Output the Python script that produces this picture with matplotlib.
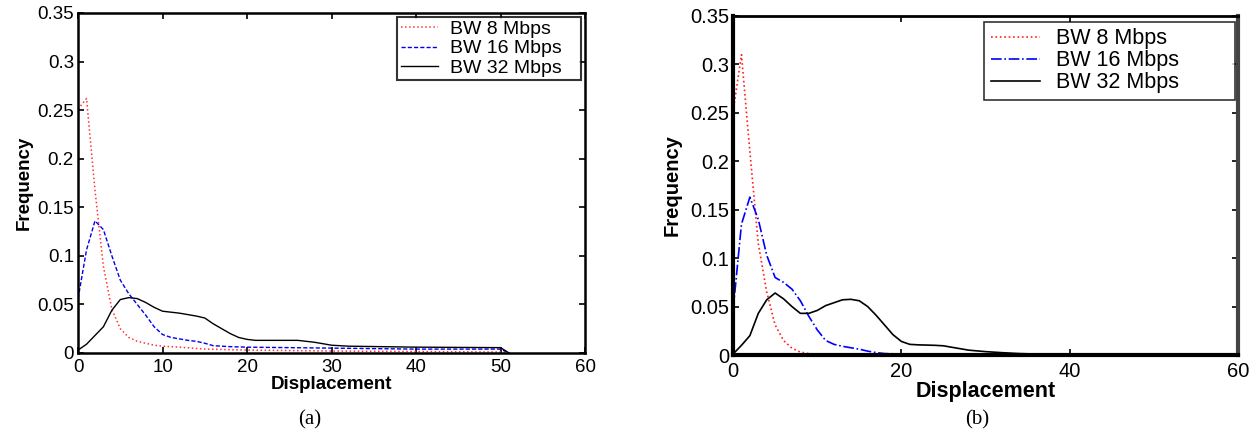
import matplotlib
matplotlib.use('Agg')
import matplotlib.pyplot as plt

# panel (a)
a_x_8 = [0, 1, 2, 3, 4, 5, 6, 7, 8, 9, 10, 12, 15, 20, 25, 30, 40, 50, 51]
a_y_8 = [0.251, 0.262, 0.168, 0.089, 0.045, 0.025, 0.016, 0.012, 0.010, 0.008,
         0.007, 0.006, 0.004, 0.003, 0.0025, 0.002, 0.0015, 0.001, 0.0]

a_x_16 = [0, 1, 2, 3, 4, 5, 6, 7, 8, 9, 10, 11, 12, 13, 14, 15, 16, 18, 20, 25, 30, 40, 50, 51]
a_y_16 = [0.056, 0.106, 0.136, 0.127, 0.100, 0.075, 0.061, 0.050, 0.039, 0.027,
          0.019, 0.016, 0.0145, 0.013, 0.012, 0.010, 0.0075, 0.0065, 0.006, 0.0055,
          0.005, 0.004, 0.004, 0.0]

a_x_32 = [0, 1, 2, 3, 4, 5, 6, 7, 8, 9, 10, 12, 14, 15, 16, 17, 18, 19, 20, 21,
          26, 28, 30, 32, 40, 50, 51]
a_y_32 = [0.003, 0.009, 0.018, 0.027, 0.044, 0.055, 0.057, 0.056, 0.052, 0.047,
          0.043, 0.041, 0.038, 0.036, 0.030, 0.025, 0.020, 0.016, 0.014, 0.013,
          0.013, 0.011, 0.008, 0.007, 0.006, 0.0055, 0.0]

# panel (b)
b_x_8 = [0, 1, 2, 3, 4, 5, 6, 7, 8, 9, 10, 15, 20, 60]
b_y_8 = [0.251, 0.310, 0.210, 0.115, 0.065, 0.031, 0.015, 0.007, 0.003, 0.0015,
         0.0008, 0.0003, 0.0001, 0.0]

b_x_16 = [0, 1, 2, 3, 4, 5, 6, 7, 8, 9, 10, 11, 12, 13, 14, 15, 16, 17, 18, 20, 25, 30, 60]
b_y_16 = [0.046, 0.135, 0.163, 0.140, 0.103, 0.080, 0.075, 0.068, 0.056, 0.040,
          0.026, 0.015, 0.011, 0.009, 0.0075, 0.006, 0.004, 0.0025, 0.0015, 0.001,
          0.0005, 0.0003, 0.0]

b_x_32 = [0, 1, 2, 3, 4, 5, 6, 7, 8, 9, 10, 11, 12, 13, 14, 15, 16, 17, 18, 19,
          20, 21, 22, 24, 25, 26, 28, 30, 32, 34, 36, 40, 50, 60]
b_y_32 = [0.001, 0.010, 0.020, 0.043, 0.057, 0.064, 0.058, 0.050, 0.043, 0.043,
          0.046, 0.051, 0.054, 0.057, 0.0575, 0.056, 0.050, 0.041, 0.031, 0.021,
          0.014, 0.011, 0.0105, 0.010, 0.0095, 0.008, 0.005, 0.0035, 0.0024, 0.0015,
          0.001, 0.0005, 0.0002, 0.0]

labels = ['BW 8 Mbps', 'BW 16 Mbps', 'BW 32 Mbps']
x_ticks = [0, 10, 20, 30, 40, 50, 60]
b_x_ticks = [0, 20, 40, 60]
y_ticks = [0, 0.05, 0.1, 0.15, 0.2, 0.25, 0.3, 0.35]
y_tick_labels = ['0', '0.05', '0.1', '0.15', '0.2', '0.25', '0.3', '0.35']

plt.rcParams['font.family'] = ['Liberation Sans', 'DejaVu Sans']

fig = plt.figure(figsize=(12.55, 4.33), dpi=100)
ax_a = fig.add_axes([0.0622, 0.1848, 0.4040, 0.7852])
ax_b = fig.add_axes([0.5841, 0.1801, 0.4024, 0.7830])

# (a)
ax_a.plot(a_x_8, a_y_8, color='#ff3333', linestyle=':', lw=1.1, label=labels[0], clip_on=False)
ax_a.plot(a_x_16, a_y_16, color='#0000ee', linestyle=(0, (3, 1.5)), lw=1.0, label=labels[1])
ax_a.plot(a_x_32, a_y_32, color='black', linestyle='-', lw=1.0, label=labels[2])
ax_a.set_xlim(0, 60)
ax_a.set_ylim(0, 0.35)
ax_a.set_xticks(x_ticks)
ax_a.set_yticks(y_ticks)
ax_a.set_yticklabels(y_tick_labels)
ax_a.tick_params(direction='in', top=True, right=True, length=4, width=1.2,
                 labelsize=13.5, pad=3)
ax_a.tick_params(axis='x', pad=4)
for s in ax_a.spines.values():
    s.set_linewidth(1.8)
ax_a.set_xlabel('Displacement', fontsize=13.5, fontweight='bold', labelpad=0.5)
ax_a.set_ylabel('Frequency', fontsize=13.5, fontweight='bold', labelpad=3)
leg = ax_a.legend(loc='upper left', bbox_to_anchor=(0.6297, 0.5, 0.3615, 0.489),
                  mode='expand', borderaxespad=0, fontsize=14, frameon=True,
                  fancybox=False, handlelength=1.9, handletextpad=0.6,
                  labelspacing=0.08, borderpad=0.2)
leg.get_frame().set_edgecolor('black')
leg.get_frame().set_linewidth(1.5)

# (b)
ax_b.plot(b_x_8, b_y_8, color='#ff2020', linestyle=':', lw=1.2, label=labels[0])
ax_b.plot(b_x_16, b_y_16, color='#0000ff', linestyle='-.', lw=1.2, label=labels[1])
ax_b.plot(b_x_32, b_y_32, color='black', linestyle='-', lw=1.2, label=labels[2])
ax_b.set_xlim(0, 60)
ax_b.set_ylim(0, 0.35)
ax_b.set_xticks(b_x_ticks)
ax_b.set_yticks(y_ticks)
ax_b.set_yticklabels(y_tick_labels)
ax_b.tick_params(direction='in', top=True, right=True, length=4, width=1.2,
                 labelsize=14.5, pad=3)
ax_b.tick_params(axis='x', pad=5)
ax_b.spines['left'].set_linewidth(3)
ax_b.spines['bottom'].set_linewidth(3)
ax_b.spines['top'].set_linewidth(2)
ax_b.spines['right'].set_linewidth(3)
ax_b.spines['right'].set_color('#444444')
ax_b.set_xlabel('Displacement', fontsize=15.5, fontweight='bold', labelpad=0)
ax_b.set_ylabel('Frequency', fontsize=14.5, fontweight='bold', labelpad=6)
leg = ax_b.legend(loc='upper left', bbox_to_anchor=(0.4976, 0.5, 0.4964, 0.483),
                  mode='expand', borderaxespad=0, fontsize=15.5, frameon=True,
                  fancybox=False, handlelength=2.3, handletextpad=0.75,
                  labelspacing=0.05, borderpad=0.3)
leg.get_frame().set_edgecolor('black')
leg.get_frame().set_linewidth(1.2)

fig.text(310 / 1255, 1 - 420 / 433, '(a)', family='Liberation Serif', fontsize=15,
         ha='center', va='center')
fig.text(977 / 1255, 1 - 420 / 433, '(b)', family='Liberation Serif', fontsize=15,
         ha='center', va='center')

fig.savefig('out.png', dpi=100)
